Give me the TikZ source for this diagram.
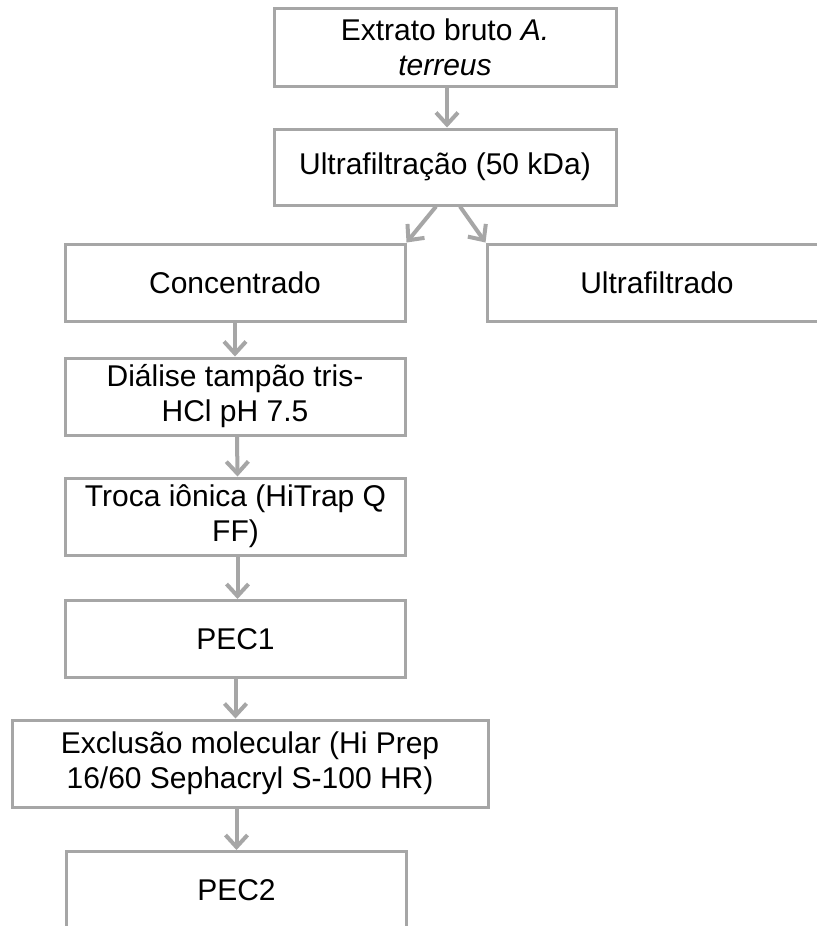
\documentclass[tikz,border=0pt]{standalone}
\usepackage{fontspec}
\setmainfont{Liberation Sans}
\usepackage{xcolor}
\usepackage{tikz}
\usetikzlibrary{positioning,arrows.meta,calc}
\definecolor{linegray}{RGB}{166,166,166}

\begin{document}
\begin{tikzpicture}[
  x=0.5pt, y=-0.5pt,
  every node/.style={font=\fontsize{15}{17.5}\selectfont},
  proc/.style={rectangle, draw=linegray, line width=1.5pt, fill=white,
               minimum width=170pt, minimum height=38.5pt, inner sep=0pt, align=center},
  wide/.style={proc, minimum width=238pt, minimum height=43.5pt},
  arr/.style={-{Straight Barb[length=6pt,width=11pt]}, line width=2pt, color=linegray}
]
  \clip (0,0) rectangle (817,926);
  \fill[white] (0,0) rectangle (817,926);

  \node[proc, minimum width=171pt, minimum height=39pt] (crude) at (445,47) {Extrato bruto \textit{A.}\\\textit{terreus}};
  \node[proc, minimum width=171pt, minimum height=38pt] (uf) at (445,167) {Ultrafiltração (50 kDa)};
  \node[proc] (conc) at (235,282.5) {Concentrado};
  \node[proc] (filt) at (657,282.5) {Ultrafiltrado};
  \node[proc] (dial) at (235,396.5) {Diálise tampão tris-\\HCl pH 7.5};
  \node[proc] (ionx) at (235.5,516.5) {Troca iônica (HiTrap Q\\FF)};
  \node[proc] (pec1) at (235.5,639) {PEC1};
  \node[wide] (sec) at (250,763.5) {Exclusão molecular (Hi Prep\\16/60 Sephacryl S-100 HR)};
  \node[proc] (pec2) at (236.5,890) {PEC2};

  \draw[arr] ([xshift=1pt]crude.south) -- ([xshift=1pt]uf.north);
  \draw[arr] ([xshift=-4.5pt]uf.south) -- (conc.north east);
  \draw[arr] ([xshift=7.5pt]uf.south) -- (filt.north west);
  \draw[arr] (conc) -- (dial);
  \draw[arr] ([xshift=1pt]dial.south) -- ([xshift=1pt]ionx.north);
  \draw[arr] ([xshift=1pt]ionx.south) -- ([xshift=1pt]pec1.north);
  \draw[arr] (pec1.south) -- (pec1.south |- sec.north);
  \draw[arr] (sec.south -| pec2.north) -- (pec2.north);
\end{tikzpicture}
\end{document}
